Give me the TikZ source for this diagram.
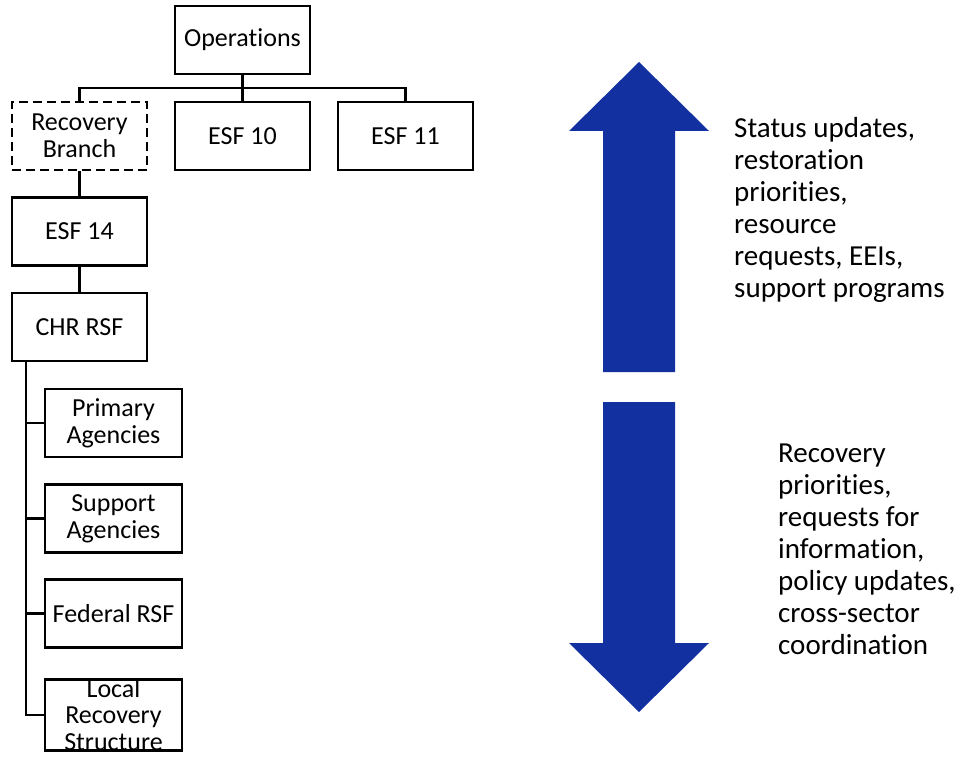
\documentclass[tikz,border=0pt]{standalone}
\usepackage{fontspec}
\setmainfont{Carlito}[Ligatures=NoCommon]
\usepackage{tikz}
\definecolor{arrowblue}{RGB}{18,48,160}
\tikzset{
  orgbox/.style={draw, line width=2.8pt, minimum width=135pt, minimum height=68pt,
    inner sep=0pt, align=center, font=\fontsize{26}{27}\selectfont},
  subbox/.style={orgbox, minimum width=137pt},
  link/.style={line width=2.8pt},
  note/.style={anchor=west, align=left, inner sep=0pt, font=\fontsize{29}{32}\selectfont}
}

\begin{document}
\begin{tikzpicture}[x=1pt,y=-1pt]
\useasboundingbox (0,0) rectangle (961,757);
% org chart
\node[orgbox] (ops) at (242.5,40) {Operations};
\node[orgbox, dash pattern=on 9pt off 5pt] (recov) at (79.5,136) {Recovery\\Branch};
\node[orgbox] (esften) at (242.5,136) {ESF 10};
\node[orgbox] (esfeleven) at (405.5,136) {ESF 11};
\node[orgbox] (esffourteen) at (79.5,231.5) {ESF 14};
\node[orgbox] (chr) at (79.5,327) {CHR RSF};
\node[subbox] (primary) at (113.5,423) {Primary\\Agencies};
\node[subbox] (support) at (113.5,518.5) {Support\\Agencies};
\node[subbox] (federal) at (113.5,613.5) {Federal RSF};
\node[subbox, minimum height=0pt, font=\fontsize{26}{26.5}\selectfont] (local) at (113.5,715) {Local\\Recovery\\Structure};
\coordinate (bus) at (242.5,88);
\coordinate (trunk) at (26,361);
\draw[link] (ops) -- (esften);
\draw[link] (recov.north) |- (bus) -| (esfeleven.north);
\draw[link] (recov) -- (esffourteen);
\draw[link] (esffourteen) -- (chr);
\foreach \sub in {primary,support,federal,local}
  \draw[link] (trunk) |- (\sub.west);
% the two big arrows
\fill[arrowblue] (603,372) -- (603,131) -- (569,131) -- (639,62) -- (709,131)
  -- (675,131) -- (675,372) -- cycle;
\fill[arrowblue] (603,402) -- (603,643) -- (569,643) -- (639,712) -- (709,643)
  -- (675,643) -- (675,402) -- cycle;
\node[note] (upnote) at (734,210) {Status updates,\\restoration\\priorities,\\resource\\requests, EEIs,\\support programs};
\node[note] (downnote) at (778,549) {Recovery\\priorities,\\requests for\\information,\\policy updates,\\cross-sector\\coordination};
\end{tikzpicture}
\end{document}
